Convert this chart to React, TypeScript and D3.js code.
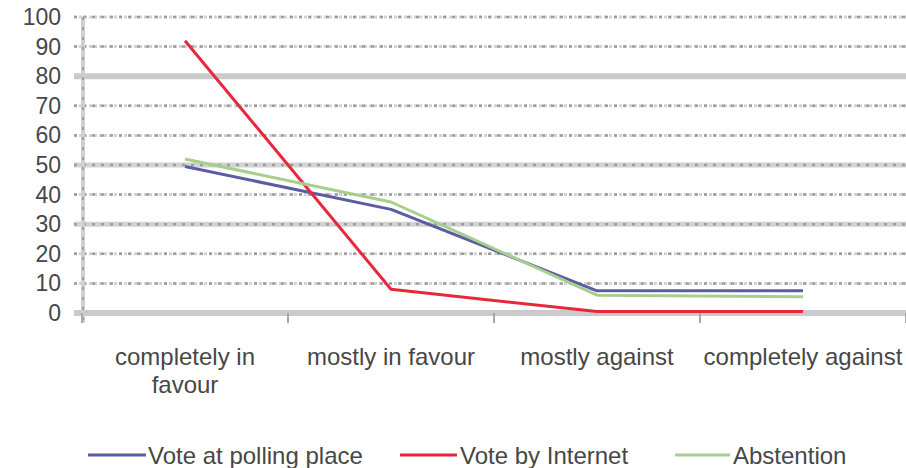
import React from "react";
import * as d3 from "d3";

const categories: string[][] = [
  ["completely in", "favour"],
  ["mostly in favour"],
  ["mostly against"],
  ["completely against"],
];
const seriesNames = ["Vote at polling place", "Vote by Internet", "Abstention"];
const pollingPlace = [49.5, 35, 7.5, 7.5];
const internet = [92, 8, 0.5, 0.5];
const abstention = [52, 37.5, 6, 5.5];
const yTicks = [0, 10, 20, 30, 40, 50, 60, 70, 80, 90, 100];

const W = 906;
const H = 468;
const colors = ["#5a5ca4", "#e8283a", "#a6cf8e"];

export default function App() {
  const x = d3.scaleBand<number>().domain([0, 1, 2, 3]).range([82, 906]);
  const y = d3.scaleLinear().domain([0, 100]).range([313, 17]);
  const cx = (i: number) => (x(i) as number) + x.bandwidth() / 2;
  const line = d3
    .line<number>()
    .x((_, i) => cx(i))
    .y((d) => y(d));
  const series = [pollingPlace, internet, abstention];
  const font = "'Liberation Sans', Arial, sans-serif";
  const textColor = "#474747";
  const solid = new Set([80, 0]);
  const banded = new Set([50, 30]);
  const legendPos = [
    { x0: 88, x1: 146, tx: 148 },
    { x0: 400, x1: 457, tx: 460 },
    { x0: 675, x1: 730, tx: 733 },
  ];
  const bandTicks = [0, 1, 2, 3, 4].map((i) => (i < 4 ? (x(i) as number) : 906));
  return (
    <svg
      width={W}
      height={H}
      style={{ position: "absolute", left: 0, top: 0, background: "#fff" }}
    >
      {/* gridlines */}
      {yTicks.map((t) => (
        <g key={t}>
          {solid.has(t) ? (
            <line x1={74} x2={906} y1={y(t)} y2={y(t)} stroke="#cacaca" strokeWidth={6} />
          ) : (
            <>
              <line
                x1={74}
                x2={906}
                y1={y(t)}
                y2={y(t)}
                stroke="#d2d2d2"
                strokeWidth={banded.has(t) ? 5 : 3}
                strokeDasharray={banded.has(t) ? undefined : "3,2"}
              />
              <line
                x1={74}
                x2={906}
                y1={y(t)}
                y2={y(t)}
                stroke="#9c9c9c"
                strokeWidth={2.5}
                strokeDasharray="3,6"
              />
            </>
          )}
        </g>
      ))}
      {/* y axis */}
      <line x1={83} x2={83} y1={17} y2={323} stroke="#cfcfcf" strokeWidth={4} />
      <line x1={83} x2={83} y1={17} y2={323} stroke="#a0a0a0" strokeWidth={2} strokeDasharray="3,7" />
      {/* x ticks */}
      {bandTicks.map((bx, i) => (
        <line key={i} x1={bx} x2={bx} y1={313} y2={323} stroke="#a8a8a8" strokeWidth={2} />
      ))}
      {/* y labels */}
      {yTicks.map((t) => (
        <text
          key={t}
          x={61}
          y={y(t) + 8}
          textAnchor="end"
          fontFamily={font}
          fontSize={23}
          fill={textColor}
        >
          {t}
        </text>
      ))}
      {/* category labels */}
      {categories.map((lines, i) => (
        <text key={i} textAnchor="middle" fontFamily={font} fontSize={24} fill={textColor}>
          {lines.map((l, j) => (
            <tspan key={j} x={cx(i)} y={365 + j * 28}>
              {l}
            </tspan>
          ))}
        </text>
      ))}
      {/* series */}
      {series.map((s, k) => (
        <path
          key={k}
          d={line(s) || ""}
          fill="none"
          stroke={colors[k]}
          strokeWidth={3}
          strokeLinejoin="round"
        />
      ))}
      {/* legend */}
      {seriesNames.map((n, k) => (
        <g key={n}>
          <line
            x1={legendPos[k].x0}
            x2={legendPos[k].x1}
            y1={455}
            y2={455}
            stroke={colors[k]}
            strokeWidth={3}
          />
          <text
            x={legendPos[k].tx}
            y={464}
            fontFamily={font}
            fontSize={24}
            fill={textColor}
          >
            {n}
          </text>
        </g>
      ))}
    </svg>
  );
}
